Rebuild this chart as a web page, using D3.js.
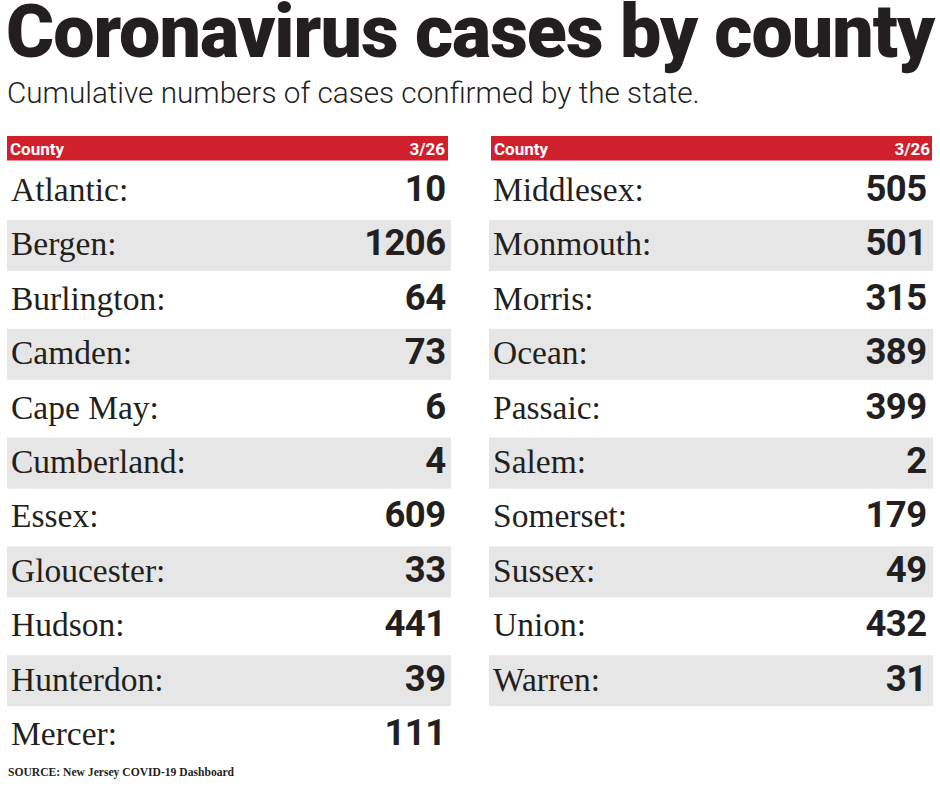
<!DOCTYPE html>
<html>
<head>
<meta charset="utf-8">
<script src="https://cdn.jsdelivr.net/npm/d3@7"></script>
<style>
  body { margin: 0; background: #fff; }
  svg { display: block; }
</style>
</head>
<body>
<script>
const title = 'Coronavirus cases by county'
const subtitle = 'Cumulative numbers of cases confirmed by the state.'
const source = 'SOURCE: New Jersey COVID-19 Dashboard'
const headerLabels = ['County', '3/26']

const counties = ['Atlantic', 'Bergen', 'Burlington', 'Camden', 'Cape May', 'Cumberland',
  'Essex', 'Gloucester', 'Hudson', 'Hunterdon', 'Mercer',
  'Middlesex', 'Monmouth', 'Morris', 'Ocean', 'Passaic', 'Salem',
  'Somerset', 'Sussex', 'Union', 'Warren']
const cases = [10, 1206, 64, 73, 6, 4, 609, 33, 441, 39, 111,
  505, 501, 315, 389, 399, 2, 179, 49, 432, 31]

const rows = counties.map((c, i) => ({county: c, cases: cases[i], col: i < 11 ? 0 : 1, idx: i < 11 ? i : i - 11}))

const width = 940
const height = 788

const svg = d3.select('body').append('svg')
  .attr('width', width)
  .attr('height', height)

svg.append('text')
  .attr('x', 6)
  .attr('y', 57)
  .attr('font-family', 'Roboto')
  .attr('font-weight', 900)
  .attr('font-size', 73.5)
  .attr('letter-spacing', -1)
  .attr('fill', '#231f20')
  .text(title)

svg.append('text')
  .attr('x', 7)
  .attr('y', 103)
  .attr('font-family', 'Roboto')
  .attr('font-weight', 300)
  .attr('font-size', 29.7)
  .attr('fill', '#231f20')
  .text(subtitle)

// two columns
const colX = d3.scaleOrdinal().domain([0, 1]).range([7, 489])
const y = d3.scaleLinear().domain([0, 10]).range([165.6, 709.6])

const cols = svg.selectAll('g.col')
  .data([0, 1])
  .join('g')
  .attr('class', 'col')
  .attr('transform', d => `translate(${colX(d)}, 0)`)

cols.append('rect')
  .attr('x', d => d === 0 ? 0 : 2)
  .attr('y', 136)
  .attr('width', 441)
  .attr('height', 24.5)
  .attr('fill', '#d0202c')

cols.append('text')
  .attr('x', d => d === 0 ? 3 : 5)
  .attr('y', 155)
  .attr('font-family', 'Roboto')
  .attr('font-weight', 700)
  .attr('font-size', 17)
  .attr('fill', '#fff')
  .text(headerLabels[0])

cols.append('text')
  .attr('x', d => d === 0 ? 438 : 441)
  .attr('y', 155)
  .attr('text-anchor', 'end')
  .attr('font-family', 'Roboto')
  .attr('font-weight', 700)
  .attr('font-size', 17)
  .attr('fill', '#fff')
  .text(headerLabels[1])

cols.each(function(c) {
  const g = d3.select(this)
  const data = rows.filter(r => r.col === c)

  g.selectAll('rect.band')
    .data(data.filter(d => d.idx % 2 === 1))
    .join('rect')
    .attr('class', 'band')
    .attr('x', 0)
    .attr('y', d => y(d.idx))
    .attr('width', 444)
    .attr('height', 51)
    .attr('fill', '#e6e6e6')

  g.selectAll('text.name')
    .data(data)
    .join('text')
    .attr('class', 'name')
    .attr('x', 4)
    .attr('y', d => y(d.idx) + 35.4)
    .attr('font-family', 'Liberation Serif')
    .attr('font-size', 33.5)
    .attr('fill', '#231f20')
    .text(d => d.county + ':')

  g.selectAll('text.val')
    .data(data)
    .join('text')
    .attr('class', 'val')
    .attr('x', c === 0 ? 438.5 : 437.5)
    .attr('y', d => y(d.idx) + 35.4)
    .attr('text-anchor', 'end')
    .attr('font-family', 'Roboto')
    .attr('font-weight', 700)
    .attr('font-size', 36.5)
    .attr('letter-spacing', -0.6)
    .attr('fill', '#231f20')
    .text(d => d.cases)
})

svg.append('text')
  .attr('x', 8)
  .attr('y', 776)
  .attr('font-family', 'Liberation Serif')
  .attr('font-weight', 700)
  .attr('font-size', 11.6)
  .attr('fill', '#231f20')
  .text(source)
</script>
</body>
</html>
